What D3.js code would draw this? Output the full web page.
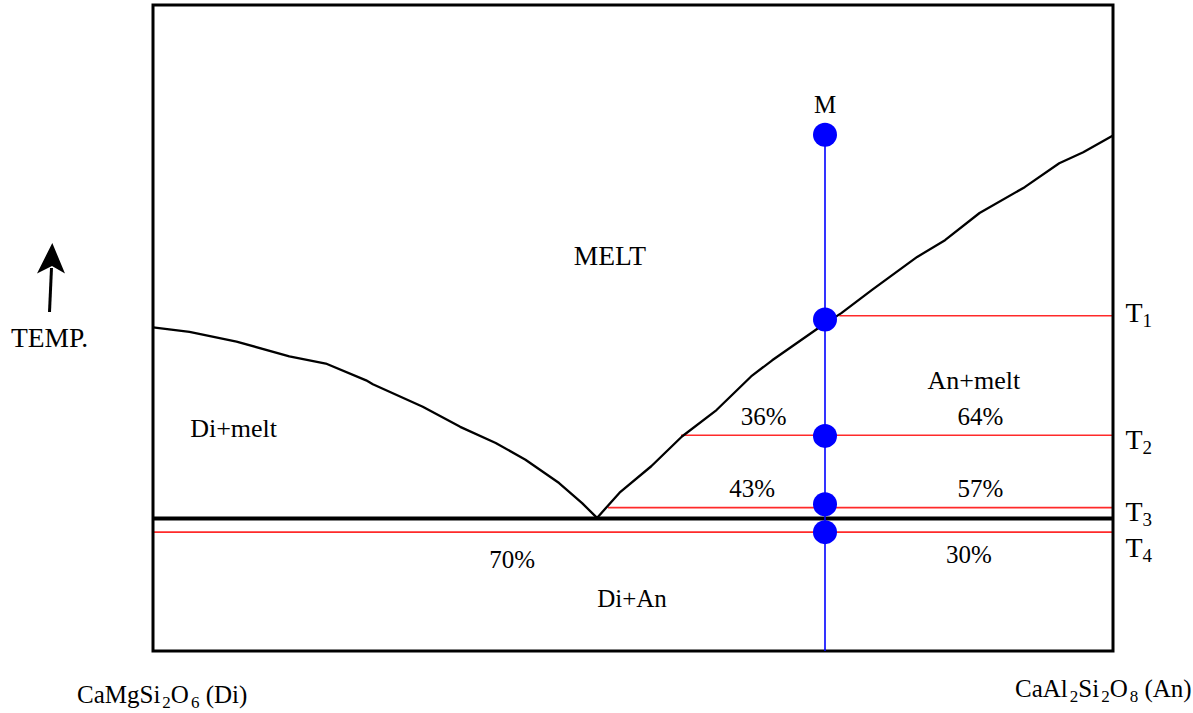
<!DOCTYPE html>
<html>
<head>
<meta charset="utf-8">
<script src="https://cdn.jsdelivr.net/npm/d3@7"></script>
<style>
  body { margin: 0; background: #fff; }
  svg text { font-family: "Liberation Serif", "Times New Roman", serif; fill: #000; }
</style>
</head>
<body>
<div id="chart"></div>
<script>
/*** DATA : composition in wt% An, temperature in relative units ***/

// liquidus of diopside (Di side down to the eutectic)
const liquidusDi = [
    [0, 50.1], [3.8, 49.4], [8.7, 47.9], [14.2, 45.6], [18.0, 44.5], [22.2, 41.9],
    [22.9, 41.3], [28.1, 37.8], [32.0, 34.7], [35.7, 32.2], [38.8, 29.6],
    [42.3, 26.0], [44.7, 22.9], [46.25, 20.6]
];
// liquidus of anorthite (eutectic up to the An side)
const liquidusAn = [
    [46.25, 20.6], [48.6, 24.5], [51.9, 28.6], [55.1, 33.2], [58.7, 37.3], [62.3, 42.5],
    [64.5, 45.0], [69.5, 50.2], [71.7, 52.3], [74.9, 55.9], [79.6, 61.0], [82.5, 63.6],
    [86.1, 67.8], [90.8, 71.8], [94.4, 75.5], [96.9, 77.2], [100, 79.8]
];
const eutecticT = 20.5;

// bulk composition M and the cooling points
const bulkComp = 70;
const coolingNames = ["M", "T1", "T2", "T3", "T4"];
const coolingT = [79.9, 51.3, 33.3, 22.7, 18.4];

// isotherms (tie lines) : name, temperature, start composition
const isoNames = ["T1", "T2", "T3", "T4"];
const isoT = [51.9, 33.4, 22.2, 18.4];
const isoStart = [71.5, 55.0, 47.4, 0];

// lever rule proportions
const percentLabels = ["36%", "64%", "43%", "57%", "70%", "30%"];
const fieldLabels = ["MELT", "Di+melt", "An+melt", "Di+An"];

/*** GRAPH ***/
const width = 1193, height = 713;
const frame = {left: 153, right: 1113, top: 5, bottom: 651};

const svg = d3.select("#chart").append("svg")
    .attr("width", width)
    .attr("height", height);

const x = d3.scaleLinear().domain([0, 100]).range([frame.left, frame.right]);
const y = d3.scaleLinear().domain([0, 100]).range([frame.bottom, frame.top]);

const line = d3.line().x(d => x(d[0])).y(d => y(d[1]));

// red isotherms
svg.selectAll(".iso")
    .data(isoT)
    .enter().append("line")
    .attr("class", "iso")
    .attr("x1", (d, i) => x(isoStart[i]))
    .attr("x2", x(100))
    .attr("y1", d => y(d))
    .attr("y2", d => y(d))
    .attr("stroke", "#ff2a2a")
    .attr("stroke-width", 1.6);

// eutectic (solidus)
svg.append("line")
    .attr("x1", x(0)).attr("x2", x(100))
    .attr("y1", y(eutecticT)).attr("y2", y(eutecticT))
    .attr("stroke", "#000")
    .attr("stroke-width", 4);

// liquidus curves
[liquidusDi, liquidusAn].forEach(function (c) {
    svg.append("path")
        .attr("d", line(c))
        .attr("fill", "none")
        .attr("stroke", "#000")
        .attr("stroke-width", 2.3)
        .attr("stroke-linejoin", "round");
});

// frame
svg.append("rect")
    .attr("x", x(0)).attr("y", y(100))
    .attr("width", x(100) - x(0))
    .attr("height", y(0) - y(100))
    .attr("fill", "none")
    .attr("stroke", "#000")
    .attr("stroke-width", 3);

// cooling path of M
svg.append("line")
    .attr("x1", x(bulkComp)).attr("x2", x(bulkComp))
    .attr("y1", y(d3.max(coolingT))).attr("y2", y(0))
    .attr("stroke", "#0000ff")
    .attr("stroke-width", 1.6);

svg.selectAll(".dot")
    .data(coolingT)
    .enter().append("circle")
    .attr("class", "dot")
    .attr("cx", x(bulkComp))
    .attr("cy", d => y(d))
    .attr("r", 12)
    .attr("fill", "#0000ff");

/*** LABELS ***/
function addText(txt, cx, ct, size, anchor) {
    return svg.append("text")
        .attr("x", x(cx))
        .attr("y", y(ct))
        .attr("font-size", size)
        .attr("text-anchor", anchor || "middle")
        .text(txt);
}

// field names
const fieldPos = [[47.6, 59.8], [8.4, 33.1], [85.5, 40.6], [49.9, 6.8]];
const fieldSize = [27.5, 26, 26, 25];
fieldLabels.forEach((t, i) => addText(t, fieldPos[i][0], fieldPos[i][1], fieldSize[i]));

// percentages
const percentPos = [[63.6, 35.0], [86.2, 35.0], [62.4, 23.9], [86.2, 23.9], [37.4, 12.85], [85.0, 13.6]];
percentLabels.forEach((t, i) => addText(t, percentPos[i][0], percentPos[i][1], 25));

// M
addText(coolingNames[0], bulkComp, 83.3, 25);

// T1..T4 with subscript
const isoLabelT = [50.9, 31.3, 20.2, 14.55];
isoNames.forEach(function (n, i) {
    const t = svg.append("text")
        .attr("x", x(101.3))
        .attr("y", y(isoLabelT[i]))
        .attr("font-size", 28);
    t.append("tspan").text(n[0]);
    t.append("tspan").attr("font-size", 19).attr("dy", 5).text(n.slice(1));
});

// temperature arrow
svg.append("text")
    .attr("x", 11).attr("y", 347)
    .attr("font-size", 27.5)
    .text("TEMP.");
svg.append("line")
    .attr("x1", 49.5).attr("y1", 312)
    .attr("x2", 51.5).attr("y2", 268)
    .attr("stroke", "#000")
    .attr("stroke-width", 3);
svg.append("path")
    .attr("d", "M52.3,243 L65,273.5 L52,266 L37,273.5 Z")
    .attr("fill", "#000");

// end members, with subscripts
function formula(parts, px, py) {
    const t = svg.append("text").attr("x", px).attr("y", py).attr("font-size", 25);
    parts.forEach(function (p) {
        if (p[1]) {
            t.append("tspan").attr("font-size", 17).attr("dy", 5).attr("dx", 2).text(p[0]);
        } else {
            t.append("tspan").attr("dy", p[2] || 0).text(p[0]);
        }
    });
}
formula([["CaMgSi"], ["2", true], ["O", false, -5], ["6", true], [" (Di)", false, -5]], 77, 703);
formula([["CaAl"], ["2", true], ["Si", false, -5], ["2", true], ["O", false, -5], ["8", true], [" (An)", false, -5]], 1015, 697);
</script>
</body>
</html>
